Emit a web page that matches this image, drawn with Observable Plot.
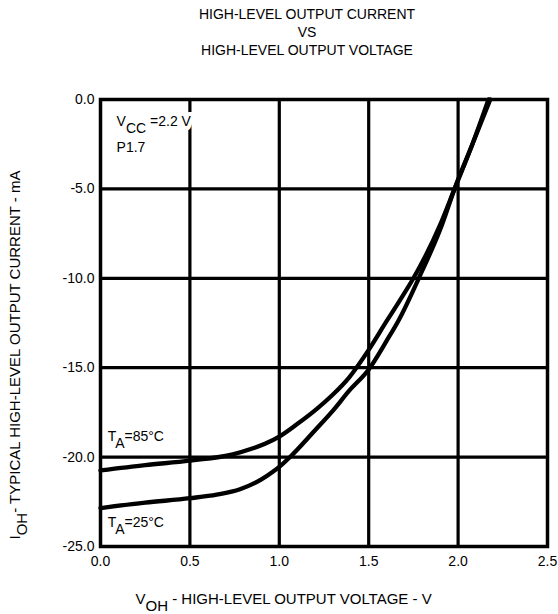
<!DOCTYPE html>
<html><head><meta charset="utf-8">
<script src="https://cdn.jsdelivr.net/npm/d3@7"></script>
<script src="https://cdn.jsdelivr.net/npm/@observablehq/plot@0.6"></script>
<style>
body{margin:0;background:#fff;font-family:"Liberation Sans",Arial,sans-serif;}
#title{width:558px;height:62px;box-sizing:border-box;padding-left:56px;padding-top:5px;text-align:center;font-size:14px;line-height:18px;color:#000;}
#chart svg{display:block;}
</style></head><body>
<div id="title">HIGH-LEVEL OUTPUT CURRENT<br>VS<br>HIGH-LEVEL OUTPUT VOLTAGE</div>
<div id="chart"></div>
<script>
const xTicks = [0, 0.5, 1.0, 1.5, 2.0, 2.5];
const yTicks = [0, -5, -10, -15, -20, -25];

// T_A = 25°C
const volt25 = [0, 0.25, 0.5, 0.65, 0.78, 0.9, 0.96, 1.0, 1.06, 1.2, 1.3, 1.39, 1.5, 1.6, 1.67, 1.78, 1.91, 1.98, 2.08, 2.18];
const cur25  = [-22.85, -22.55, -22.3, -22.1, -21.8, -21.25, -20.85, -20.55, -20.0, -18.5, -17.4, -16.3, -15.1, -13.5, -12.3, -10.0, -7.0, -5.0, -2.5, 0];

// T_A = 85°C
const volt85 = [0, 0.25, 0.5, 0.74, 0.84, 0.92, 1.0, 1.1, 1.21, 1.3, 1.39, 1.5, 1.6, 1.67, 1.75, 1.9, 1.98, 2.08, 2.17];
const cur85  = [-20.75, -20.45, -20.2, -19.85, -19.55, -19.25, -18.85, -18.15, -17.3, -16.5, -15.55, -14.0, -12.4, -11.3, -10.0, -7.0, -5.0, -2.5, 0];

const rows = [
  ...volt25.map((v, i) => ({v, i: cur25[i], t: "25"})),
  ...volt85.map((v, i) => ({v, i: cur85[i], t: "85"}))
];

const fmt = d => d.toFixed(1);
const FONT = 14;

const chart = Plot.plot({
  width: 558,
  height: 552,
  marginTop: 37,
  marginBottom: 68,
  marginLeft: 100,
  marginRight: 11,
  style: {fontFamily: "'Liberation Sans', Arial, sans-serif", fontSize: FONT + "px", color: "black", background: "white"},
  x: {domain: [0, 2.5]},
  y: {domain: [-25, 0]},
  marks: [
    Plot.ruleX(xTicks.slice(1, -1), {stroke: "black", strokeWidth: 3.2}),
    Plot.ruleY(yTicks.slice(1, -1), {stroke: "black", strokeWidth: 3.2}),
    Plot.frame({stroke: "black", strokeWidth: 3.5}),
    Plot.axisX({ticks: xTicks, tickSize: 0, tickPadding: 10, tickFormat: fmt, label: null, fontSize: FONT}),
    Plot.axisY({ticks: yTicks, tickSize: 0, tickPadding: 6, tickFormat: fmt, label: null, fontSize: FONT}),
    Plot.line(rows, {x: "v", y: "i", z: "t", stroke: "black", strokeWidth: 4.3, curve: "monotone-x"}),
    Plot.text(["VCC"], {x: 0.09, y: -1.48, text: d => d, textAnchor: "start", lineAnchor: "bottom", fontSize: FONT, fill: "black", stroke: "white", strokeWidth: 8, className: "lab-vcc"}),
    Plot.text(["P1.7"], {x: 0.09, y: -2.94, text: d => d, textAnchor: "start", lineAnchor: "bottom", fontSize: FONT, fill: "black"}),
    Plot.text(["TA85"], {x: 0.04, y: -19.1, text: d => d, textAnchor: "start", lineAnchor: "bottom", fontSize: FONT, fill: "black", className: "lab-t85"}),
    Plot.text(["TA25"], {x: 0.04, y: -23.9, text: d => d, textAnchor: "start", lineAnchor: "bottom", fontSize: FONT, fill: "black", className: "lab-t25"}),
    Plot.text(["XL"], {frameAnchor: "bottom-left", dx: 35, dy: 57, text: d => d, textAnchor: "start", lineAnchor: "bottom", fontSize: 15, fill: "black", className: "lab-x"}),
    Plot.text(["YL"], {frameAnchor: "bottom-left", dx: -81, dy: -7, rotate: -90, text: d => d, textAnchor: "start", lineAnchor: "bottom", fontSize: 15, fill: "black", className: "lab-y"})
  ]
});

document.getElementById("chart").appendChild(chart);

function richText(cls, parts) {
  d3.select(chart).selectAll(`.${cls} text`).each(function() {
    const t = d3.select(this);
    t.text(null);
    let down = false;
    for (const [s, isSub] of parts) {
      const ts = t.append("tspan").text(s);
      if (isSub && !down) { ts.attr("dy", "0.5em"); down = true; }
      else if (!isSub && down) { ts.attr("dy", "-0.5em"); down = false; }
    }
  });
}
richText("lab-vcc", [["V", false], ["CC", true], [" =2.2 V", false]]);
richText("lab-t85", [["T", false], ["A", true], ["=85°C", false]]);
richText("lab-t25", [["T", false], ["A", true], ["=25°C", false]]);
richText("lab-x", [["V", false], ["OH", true], [" - HIGH-LEVEL OUTPUT VOLTAGE - V", false]]);
richText("lab-y", [["I", false], ["OH", true], ["- TYPICAL HIGH-LEVEL OUTPUT CURRENT - mA", false]]);
</script>
</body></html>
